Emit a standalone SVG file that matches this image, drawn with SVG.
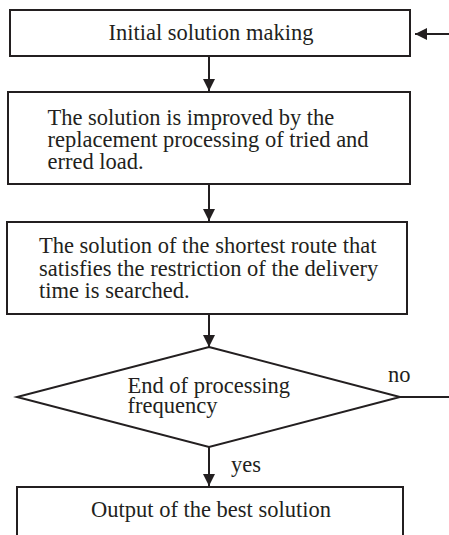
<svg xmlns="http://www.w3.org/2000/svg" width="449" height="535" viewBox="0 0 449 535">
<style>
.box{fill:#fff;stroke:#231f20;stroke-width:2}
.ln{fill:none;stroke:#231f20;stroke-width:2}
text{font-family:"Liberation Serif","Times New Roman",serif;font-size:22.5px;fill:#231f20}
</style>
<defs>
<marker id="ah" viewBox="0 0 12 12" markerWidth="12" markerHeight="12" refX="12" refY="6" orient="auto" markerUnits="userSpaceOnUse">
<path d="M0,0 L12,6 L0,12 Z" fill="#231f20"/>
</marker>
</defs>
<g id="connectors">
<line class="ln" x1="209" y1="56" x2="209" y2="91" marker-end="url(#ah)"/>
<line class="ln" x1="209" y1="184" x2="209" y2="221" marker-end="url(#ah)"/>
<line class="ln" x1="209" y1="314" x2="209" y2="347" marker-end="url(#ah)"/>
<line class="ln" x1="209" y1="447" x2="209" y2="486" marker-end="url(#ah)"/>
<line class="ln" x1="400" y1="397" x2="449" y2="397"/>
<line class="ln" x1="449" y1="34" x2="415" y2="34" marker-end="url(#ah)"/>
<text x="388" y="382">no</text>
<text x="231" y="472">yes</text>
</g>
<g id="n1">
<rect class="box" x="10" y="10" width="400" height="46"/>
<text x="211" y="39.5" text-anchor="middle">Initial solution making</text>
</g>
<g id="n2">
<rect class="box" x="8" y="92" width="402" height="92"/>
<text x="47.5" y="125">The solution is improved by the</text>
<text x="47.5" y="147">replacement processing of tried and</text>
<text x="47.5" y="169">erred load.</text>
</g>
<g id="n3">
<rect class="box" x="7" y="222" width="400" height="92"/>
<text x="39" y="253">The solution of the shortest route that</text>
<text x="39" y="275.5">satisfies the restriction of the delivery</text>
<text x="39" y="298">time is searched.</text>
</g>
<g id="n4">
<polygon class="box" points="209,347 400,397 209,447 17,397"/>
<text x="127.5" y="392.5">End of processing</text>
<text x="127.5" y="412.5">frequency</text>
</g>
<g id="n5">
<rect class="box" x="17" y="487" width="386" height="60"/>
<text x="211" y="517" text-anchor="middle">Output of the best solution</text>
</g>
</svg>
